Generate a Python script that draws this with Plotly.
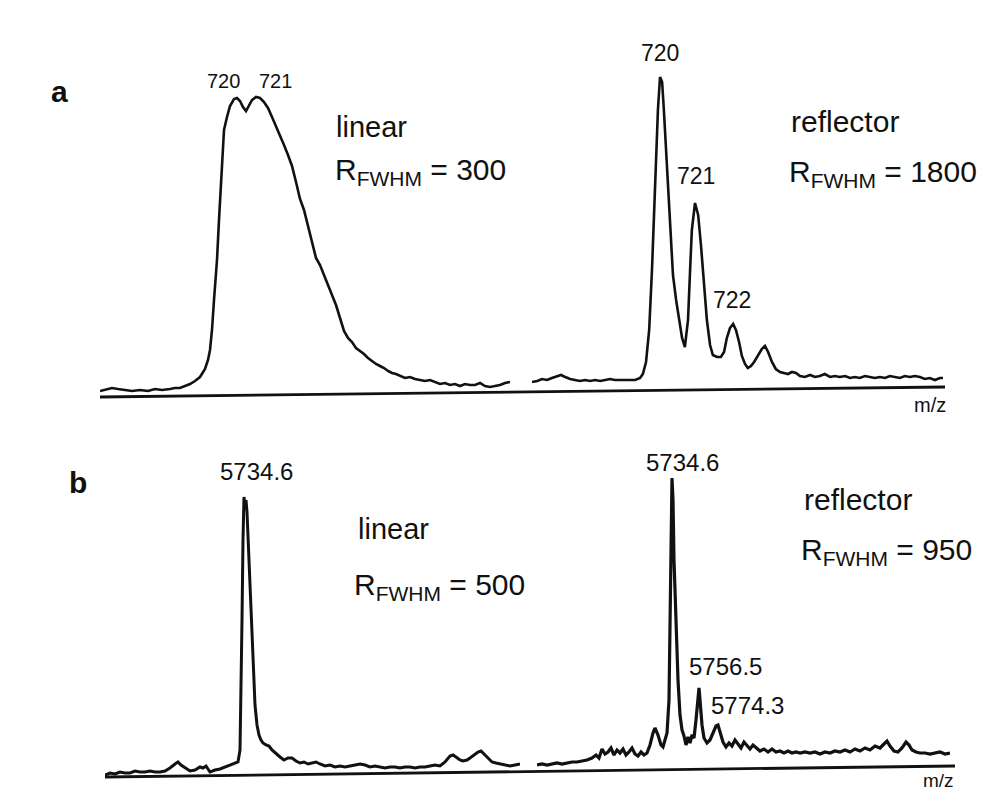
import plotly.graph_objects as go

W, H = 983, 792

# ---------------- data (m/z, intensity a.u.) ----------------
# (a) linear, m/z ~720
lin_a_mz = [713.15, 713.40, 713.75, 714.05, 714.40, 714.75, 715.15, 715.55, 715.90, 716.25,
            716.65, 716.90, 717.15, 717.40, 717.65, 717.90, 718.15, 718.40, 718.55, 718.65,
            718.75, 718.85, 719.00, 719.10, 719.25, 719.35, 719.50, 719.65, 719.85, 720.00,
            720.15, 720.30, 720.45, 720.60, 720.75, 720.95, 721.15, 721.35, 721.55, 721.75,
            721.95, 722.15, 722.35, 722.55, 722.75, 722.95, 723.15, 723.35, 723.55, 723.75,
            723.95, 724.15, 724.35, 724.55, 724.75, 724.95, 725.15, 725.35, 725.55, 725.75,
            725.95, 726.15, 726.35, 726.55, 726.75, 726.95, 727.15, 727.35, 727.55, 727.75,
            727.95, 728.15, 728.40, 728.65, 728.90, 729.15, 729.40, 729.65, 729.90, 730.15,
            730.40, 730.65, 730.90, 731.15, 731.40, 731.65, 731.90, 732.15, 732.40, 732.65,
            732.90, 733.15, 733.40, 733.65]
lin_a_int = [4, 5, 7, 6, 5, 4, 5, 4, 6, 5,
             6, 7, 7, 9, 11, 14, 18, 26, 35, 45,
             65, 95, 135, 175, 235, 265, 278, 289, 296, 297,
             294, 288, 284, 289, 295, 298, 297, 293, 287, 278,
             269, 259, 250, 240, 229, 213, 196, 185, 169, 150,
             137, 130, 120, 112, 102, 90, 77, 64, 57, 53,
             47, 44, 41, 37, 34, 31, 29, 27, 24, 22,
             21, 19, 17, 18, 16, 15, 14, 15, 13, 11,
             12, 10, 11, 9, 11, 10, 10, 12, 9, 8,
             9, 10, 12, 13]

# (a) reflector, m/z ~720
ref_a_mz = [716.34, 716.49, 716.63, 716.77, 716.91, 717.06, 717.17, 717.29, 717.43, 717.57,
            717.71, 717.86, 718.00, 718.14, 718.29, 718.43, 718.57, 718.71, 718.86, 719.00,
            719.14, 719.29, 719.43, 719.51, 719.60, 719.69, 719.77, 719.86, 719.94, 720.00,
            720.06, 720.11, 720.20, 720.29, 720.37, 720.46, 720.54, 720.63, 720.71, 720.80,
            720.86, 720.91, 721.00, 721.09, 721.17, 721.26, 721.34, 721.43, 721.51, 721.63,
            721.74, 721.83, 721.91, 722.00, 722.09, 722.17, 722.26, 722.34, 722.43, 722.51,
            722.60, 722.69, 722.80, 722.91, 723.00, 723.09, 723.20, 723.31, 723.43, 723.54,
            723.66, 723.77, 723.89, 724.00, 724.14, 724.29, 724.43, 724.57, 724.71, 724.86,
            725.00, 725.14, 725.29, 725.43, 725.57, 725.71, 725.86, 726.00, 726.14, 726.29,
            726.43, 726.57, 726.71, 726.86, 727.00, 727.14, 727.29, 727.43, 727.57, 727.71,
            727.86, 728.00, 728.09]
ref_a_int = [8, 9, 11, 10, 12, 14, 15, 13, 11, 10,
             9, 10, 9, 10, 9, 10, 11, 10, 10, 10,
             10, 10, 12, 16, 28, 60, 120, 200, 280, 313,
             308, 280, 220, 160, 115, 90, 70, 52, 43, 70,
             120, 160, 187, 175, 145, 105, 70, 45, 35, 33,
             33, 38, 52, 62, 66, 60, 48, 34, 26, 22,
             24, 28, 35, 41, 44, 38, 28, 21, 18, 17,
             16, 18, 17, 14, 13, 15, 13, 14, 16, 13,
             14, 13, 14, 12, 13, 12, 14, 13, 12, 13,
             12, 14, 13, 12, 14, 13, 14, 13, 11, 12,
             10, 12, 12]

# (b) linear, m/z ~5734
lin_b_mz = [5623.4, 5627.4, 5631.4, 5635.4, 5639.4, 5643.4, 5647.4, 5651.4, 5655.4, 5659.4,
            5663.4, 5667.4, 5671.4, 5675.4, 5679.4, 5681.8, 5684.2, 5687.4, 5691.4, 5695.4,
            5699.4, 5701.8, 5704.2, 5707.4, 5711.4, 5715.4, 5719.4, 5723.4, 5727.4, 5729.8,
            5731.4, 5732.2, 5733.0, 5733.8, 5734.6, 5735.4, 5736.2, 5737.0, 5738.6, 5740.2,
            5741.8, 5743.4, 5745.0, 5746.6, 5748.2, 5749.8, 5752.2, 5754.6, 5757.0, 5760.2,
            5763.4, 5766.6, 5769.8, 5773.0, 5776.2, 5779.4, 5782.6, 5785.8, 5789.0, 5792.2,
            5795.4, 5799.4, 5803.4, 5807.4, 5811.4, 5815.4, 5819.4, 5823.4, 5827.4, 5831.4,
            5835.4, 5839.4, 5843.4, 5847.4, 5851.4, 5855.4, 5859.4, 5863.4, 5867.4, 5871.4,
            5875.4, 5879.4, 5883.4, 5887.4, 5891.4, 5895.4, 5899.4, 5901.8, 5904.2, 5907.4,
            5909.8, 5913.0, 5915.4, 5918.6, 5921.8, 5924.2, 5926.6, 5929.8, 5933.0, 5936.2,
            5939.4, 5943.4, 5947.4, 5951.4, 5955.4]
lin_b_int = [0, 2, 1, 3, 2, 2, 4, 3, 3, 4,
             3, 3, 4, 7, 11, 13, 10, 7, 4, 5,
             8, 7, 9, 3, 5, 6, 8, 10, 12, 13,
             25, 75, 155, 235, 278, 270, 275, 263, 215, 155,
             105, 70, 50, 40, 35, 32, 30, 29, 25, 21,
             18, 15, 17, 17, 14, 12, 13, 11, 12, 13,
             11, 9, 10, 8, 9, 8, 9, 10, 11, 10,
             8, 9, 8, 7, 8, 8, 7, 8, 8, 7,
             8, 8, 9, 10, 9, 13, 19, 20, 18, 15,
             14, 15, 17, 20, 23, 24, 21, 17, 13, 12,
             11, 10, 9, 10, 11]

# (b) reflector, m/z ~5734
ref_b_mz = [5626.6, 5630.6, 5634.6, 5638.6, 5642.6, 5646.6, 5650.6, 5654.6, 5658.6, 5662.6,
            5666.6, 5670.6, 5673.8, 5676.2, 5678.6, 5681.0, 5683.4, 5685.8, 5688.2, 5690.6,
            5693.0, 5695.4, 5697.8, 5700.2, 5702.6, 5705.0, 5707.4, 5709.8, 5712.2, 5714.6,
            5717.0, 5719.4, 5721.0, 5723.4, 5725.8, 5727.4, 5729.0, 5730.6, 5732.2, 5733.0,
            5733.8, 5734.6, 5735.4, 5736.2, 5737.8, 5739.4, 5741.0, 5742.6, 5744.2, 5745.8,
            5747.4, 5749.0, 5750.6, 5752.2, 5753.8, 5755.4, 5756.2, 5757.0, 5758.6, 5760.2,
            5762.6, 5765.0, 5767.4, 5769.8, 5771.4, 5773.0, 5775.4, 5777.8, 5780.2, 5782.6,
            5785.0, 5787.4, 5789.8, 5792.2, 5794.6, 5797.0, 5799.4, 5801.8, 5805.0, 5808.2,
            5811.4, 5814.6, 5817.8, 5821.0, 5824.2, 5827.4, 5830.6, 5833.8, 5837.0, 5841.0,
            5845.0, 5849.0, 5853.0, 5857.0, 5861.0, 5865.0, 5869.0, 5873.0, 5877.0, 5881.0,
            5885.0, 5889.0, 5893.0, 5897.0, 5901.0, 5904.2, 5906.6, 5909.0, 5912.2, 5915.4,
            5918.6, 5921.8, 5924.2, 5926.6, 5929.8, 5933.0, 5937.0, 5941.0, 5945.0, 5949.0,
            5953.0, 5957.0]
ref_b_int = [4, 5, 4, 5, 6, 5, 6, 7, 7, 8,
             9, 11, 14, 11, 20, 15, 17, 21, 14, 19,
             16, 20, 14, 17, 21, 15, 13, 17, 14, 16,
             24, 36, 41, 34, 24, 22, 29, 36, 69, 169,
             249, 291, 269, 209, 149, 89, 54, 39, 33, 24,
             32, 26, 34, 31, 49, 74, 81, 69, 44, 31,
             26, 29, 36, 43, 44, 36, 27, 22, 26, 23,
             29, 25, 21, 27, 23, 20, 24, 21, 18, 20,
             17, 20, 17, 18, 16, 18, 16, 17, 16, 17,
             16, 17, 15, 17, 16, 18, 17, 19, 17, 20,
             18, 21, 19, 23, 21, 25, 28, 23, 18, 17,
             21, 27, 24, 19, 17, 16, 16, 15, 16, 17,
             15, 16]

# ---------------- layout helpers ----------------
def fx(p):
    return p / W

def fy(p):
    return 1 - p / H

FONT = "Liberation Sans, Arial, sans-serif"

fig = go.Figure()

panels = [
    # x, y, xdomain px, xrange, baseline px, width
    (lin_a_mz, lin_a_int, (100, 510), (713.15, 733.65), 395, 2.6),
    (ref_a_mz, ref_a_int, (532, 943), (716.34, 728.09), 390, 2.6),
    (lin_b_mz, lin_b_int, (105, 520), (5623.4, 5955.4), 775, 3.0),
    (ref_b_mz, ref_b_int, (537, 950), (5626.6, 5957.0), 769, 3.2),
]

for i, (xs, ys, xd, xr, base, lw) in enumerate(panels, start=1):
    sfx = "" if i == 1 else str(i)
    fig.add_trace(go.Scatter(x=xs, y=ys, mode="lines",
                             line=dict(color="#111111", width=lw),
                             xaxis="x" + sfx, yaxis="y" + sfx,
                             hoverinfo="skip", showlegend=False))
    fig.layout["xaxis" + sfx] = dict(domain=[fx(xd[0]), fx(xd[1])], range=list(xr),
                                     visible=False, anchor="y" + sfx)
    fig.layout["yaxis" + sfx] = dict(domain=[fy(base + 10), fy(base - 320)], range=[-10, 320],
                                     visible=False, anchor="x" + sfx)

# axis lines (slightly tilted like the scanned original)
shapes = [
    dict(type="line", xref="paper", yref="paper", x0=fx(100), y0=fy(397), x1=fx(945), y1=fy(387),
         line=dict(color="#111111", width=2.8)),
    dict(type="line", xref="paper", yref="paper", x0=fx(105), y0=fy(777), x1=fx(955), y1=fy(766),
         line=dict(color="#111111", width=2.8)),
]

ann = []

def txt(s, x, y, size, xanchor="center", bold=False):
    if bold:
        s = "<b>" + s + "</b>"
    ann.append(dict(text=s, x=fx(x), y=fy(y), xref="paper", yref="paper",
                    xanchor=xanchor, yanchor="middle", showarrow=False,
                    font=dict(family=FONT, size=size, color="#111111")))

R = "R<sub>FWHM</sub>"
# panel a
txt("a", 59, 92, 30, bold=True)
txt("720", 223, 81, 20)
txt("721", 275, 81, 20)
txt("linear", 334, 127, 29, xanchor="left")
txt(R + " = 300", 333, 172, 30, xanchor="left")
txt("720", 660, 53, 23)
txt("721", 696, 176, 23)
txt("722", 732, 300, 23)
txt("reflector", 789, 122, 30, xanchor="left")
txt(R + " = 1800", 787, 173, 30, xanchor="left")
txt("m/z", 930, 405, 20)
# panel b
txt("b", 78, 482, 30, bold=True)
txt("5734.6", 256, 472, 24)
txt("linear", 356, 529, 29, xanchor="left")
txt(R + " = 500", 352, 586, 30, xanchor="left")
txt("5734.6", 682, 462, 24)
txt("5756.5", 725, 666, 24)
txt("5774.3", 747, 705, 24)
txt("reflector", 802, 499, 30, xanchor="left")
txt(R + " = 950", 799, 551, 30, xanchor="left")
txt("m/z", 938, 780, 19)

fig.update_layout(width=W, height=H, margin=dict(l=0, r=0, t=0, b=0),
                  paper_bgcolor="white", plot_bgcolor="white",
                  shapes=shapes, annotations=ann, showlegend=False)

fig.write_html("out.html")
